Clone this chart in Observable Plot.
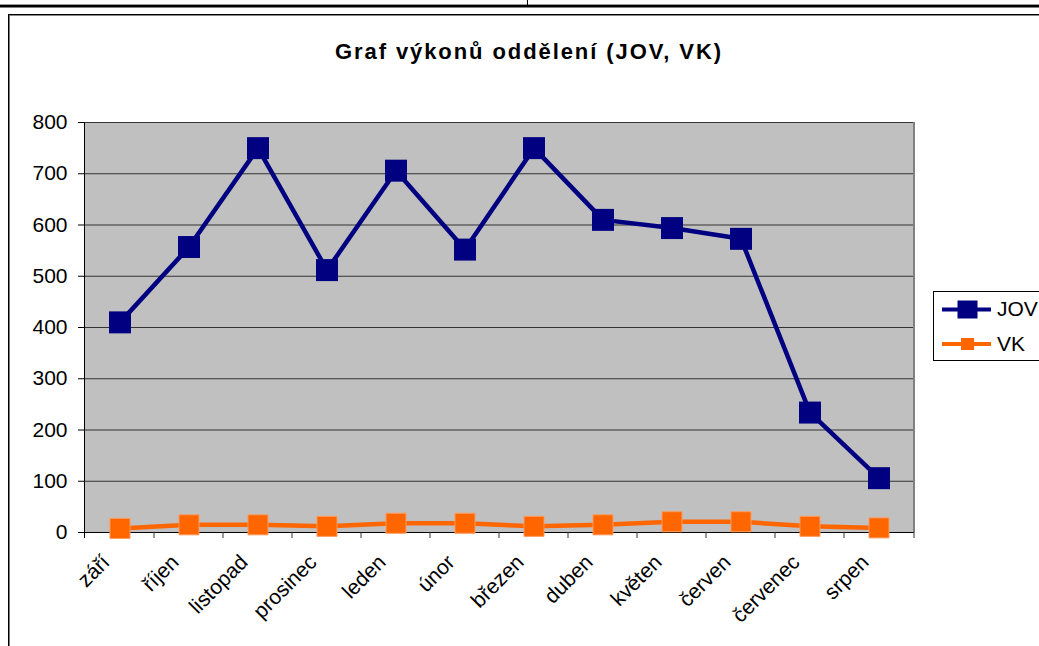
<!DOCTYPE html>
<html><head><meta charset="utf-8">
<script src="https://cdn.jsdelivr.net/npm/d3@7"></script>
<script src="https://cdn.jsdelivr.net/npm/@observablehq/plot@0.6"></script>
<style>html,body{margin:0;padding:0;background:#fff;} svg{display:block}</style>
</head><body><div id="chart"></div>
<script>
const months = ["září","říjen","listopad","prosinec","leden","únor","březen","duben","květen","červen","červenec","srpen"];
const jov = [410,557,750,512,706,552,750,610,594,573,234,106];
const vk = [8,15,15,12,18,18,12,15,21,21,12,9];
const yTicks = [0,100,200,300,400,500,600,700,800];
const title = "Graf výkonů oddělení (JOV, VK)";
const seriesNames = ["JOV","VK"];
const colors = ["#000080","#FF6600"];

const rows = months.flatMap((m,i)=>[
  {month:m, series:seriesNames[0], value:jov[i]},
  {month:m, series:seriesNames[1], value:vk[i]}
]);

const font = "'Liberation Sans', Arial, sans-serif";

const plot = Plot.plot({
  width:1039, height:646,
  marginLeft:84, marginRight:125, marginTop:122, marginBottom:114,
  style:{fontFamily:font, fontSize:"21px", color:"#000", background:"#fff", overflow:"visible"},
  x:{type:"band", domain:months, padding:0, label:null, axis:null},
  y:{domain:[0,800], ticks:yTicks, tickSize:6, tickPadding:11, label:null},
  color:{domain:seriesNames, range:colors},
  marks:[
    Plot.frame({fill:"#c0c0c0", stroke:"none"}),
    Plot.ruleY(yTicks.filter(d=>d>0), {stroke:"#333", strokeWidth:1}),
    Plot.ruleY([0], {stroke:"#000", strokeWidth:1}),
    Plot.text(months, {x:d=>d, frameAnchor:"bottom", rotate:-45, textAnchor:"end", lineAnchor:"bottom", dx:-9, dy:31, fontSize:21, fill:"#000"}),
    Plot.line(rows, {x:"month", y:"value", z:"series", stroke:"series", strokeWidth:4.5}),
    Plot.dot(rows.filter(d=>d.series===seriesNames[0]), {x:"month", y:"value", symbol:"square", r:12.4, fill:colors[0], stroke:"none"}),
    Plot.dot(rows.filter(d=>d.series===seriesNames[1]), {x:"month", y:"value", symbol:"square", r:11.3, fill:colors[1], stroke:"#ff9a5c", strokeWidth:1})
  ]
});

document.getElementById("chart").appendChild(plot);

const svg = d3.select(plot);
const xs = plot.scale("x"), ys = plot.scale("y");
const [x0, x1] = xs.range;
const [yb, yt] = ys.range;

const deco = svg.append("g");
deco.append("line").attr("x1", x1).attr("x2", x1).attr("y1", yt).attr("y2", yb).attr("stroke", "#808080").attr("stroke-width", 2);
deco.append("line").attr("x1", x0+0.5).attr("x2", x0+0.5).attr("y1", yt).attr("y2", yb+6).attr("stroke", "#000").attr("stroke-width", 1);
const bounds = months.map(m => xs.apply(m)).concat([x1]);
deco.selectAll("line.xt").data(bounds.slice(1)).join("line").attr("class","xt")
  .attr("x1", d=>d).attr("x2", d=>d).attr("y1", yb).attr("y2", yb+6)
  .attr("stroke", "#333").attr("stroke-width", 1);

const W = 1039, H = 646;
deco.append("line").attr("x1",0).attr("x2",W).attr("y1",4.5).attr("y2",4.5).attr("stroke","#999");
deco.append("rect").attr("x",0).attr("y",5).attr("width",W).attr("height",2.5).attr("fill","#000");
deco.append("line").attr("x1",527.5).attr("x2",527.5).attr("y1",0).attr("y2",5).attr("stroke","#000");
deco.append("line").attr("x1",8).attr("x2",W).attr("y1",14.5).attr("y2",14.5).attr("stroke","#000");
deco.append("line").attr("x1",9).attr("x2",W).attr("y1",15.5).attr("y2",15.5).attr("stroke","#888");
deco.append("line").attr("x1",8.5).attr("x2",8.5).attr("y1",14).attr("y2",H).attr("stroke","#000");
deco.append("line").attr("x1",9.5).attr("x2",9.5).attr("y1",15).attr("y2",H).attr("stroke","#777");

svg.append("text").attr("x", 335).attr("y", 59).attr("text-anchor","start")
  .attr("font-family", font).attr("font-weight","bold").attr("font-size", 22)
  .attr("textLength", 386).attr("lengthAdjust", "spacing")
  .attr("fill","#000").text(title);

const lg = svg.append("g");
lg.append("rect").attr("x",933.5).attr("y",291.5).attr("width",130).attr("height",69).attr("fill","#fff").attr("stroke","#000");
const ly = [309.5, 344];
const mw = [20, 13], mh = [18, 12];
const ty = [316, 351];
seriesNames.forEach((s,i)=>{
  lg.append("line").attr("x1",942).attr("x2",991).attr("y1",ly[i]).attr("y2",ly[i]).attr("stroke",colors[i]).attr("stroke-width",4);
  lg.append("rect").attr("x",967.5-mw[i]/2).attr("y",ly[i]-mh[i]/2).attr("width",mw[i]).attr("height",mh[i]).attr("fill",colors[i]);
  lg.append("text").attr("x",997).attr("y",ty[i]).attr("text-anchor","start").attr("font-family",font).attr("font-size",21).attr("fill","#000").text(s);
});
</script>
</body></html>
